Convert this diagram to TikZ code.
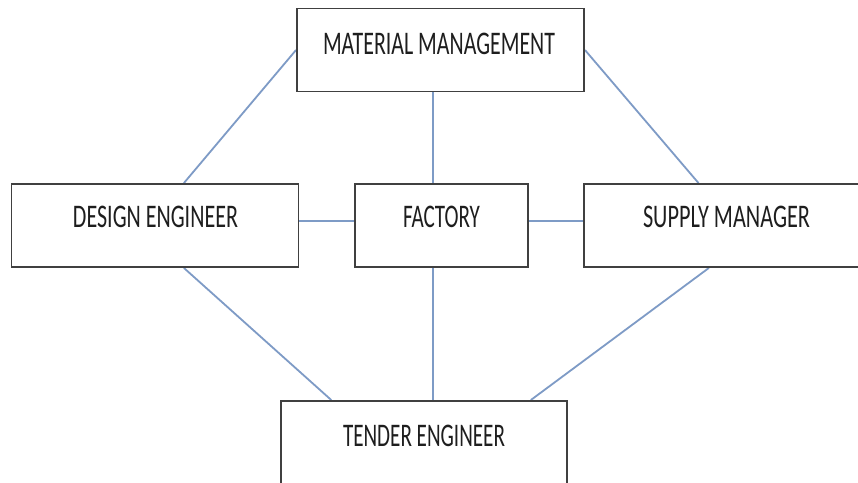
\documentclass[tikz,border=0pt]{standalone}
\usepackage{fontspec}
\setmainfont{Carlito}
\usetikzlibrary{calc}
\definecolor{boxline}{HTML}{404040}
\definecolor{linkline}{HTML}{7E9BC6}
\definecolor{txt}{HTML}{1E1E1E}
\tikzset{
  box/.style={draw=boxline, line width=1.9pt, fill=white, inner sep=0pt, minimum width=287pt, minimum height=83pt},
  boxtext/.style={font=\fontsize{33}{33}\selectfont, text=txt, inner sep=0pt, anchor=center},
  link/.style={draw=linkline, line width=1.8pt}
}
\begin{document}
\begin{tikzpicture}[x=1pt,y=-1pt]
\useasboundingbox (0,0) rectangle (858,482);
\clip (0,0) rectangle (858,482);
\fill[white] (0,0) rectangle (858,482);
% boxes
\node[box] (mm) at (440.5,50) {};
\node[box] (de) at (155,225.5) {};
\node[box, minimum width=173pt] (fac) at (441.5,225.5) {};
\node[box, minimum width=286pt] (sm) at (727,225.5) {};
\node[box, minimum width=286pt, minimum height=100pt] (te) at (424,451) {};
% connectors
\draw[link] (mm.west) -- ($(de.north west)!0.6!(de.north east)$);
\draw[link] (mm.east) -- ($(sm.north west)!0.401!(sm.north east)$);
\coordinate (mms) at ($(mm.south west)!0.475!(mm.south east)$);
\draw[link] (mms) -- (mms |- fac.north);
\coordinate (des) at ($(de.north east)!0.45!(de.south east)$);
\draw[link] (des) -- (des -| fac.west);
\draw[link] (fac.east |- des) -- (des -| sm.west);
\draw[link] ($(de.south west)!0.6!(de.south east)$) -- ($(te.north west)!0.178!(te.north east)$);
\draw[link] (mms |- fac.south) -- (mms |- te.north);
\draw[link] ($(sm.south west)!0.437!(sm.south east)$) -- ($(te.north west)!0.871!(te.north east)$);
% box outlines redrawn on top of line ends
\node[box, fill=none] at (mm) {};
\node[box, fill=none] at (de) {};
\node[box, fill=none, minimum width=173pt] at (fac) {};
\node[box, fill=none, minimum width=286pt] at (sm) {};
\node[box, fill=none, minimum width=286pt, minimum height=100pt] at (te) {};
% texts
\node[boxtext] (mmt) at ($(mm.center)+(-1.5,-6)$) {\resizebox{232pt}{\height}{MATERIAL MANAGEMENT}};
\node[boxtext] (det) at ($(de.center)+(0.5,-8.5)$) {\resizebox{165pt}{\height}{DESIGN ENGINEER}};
\node[boxtext] (fact) at ($(fac.center)+(0,-9)$) {\resizebox{77pt}{\height}{FACTORY}};
\node[boxtext] (smt) at ($(sm.center)+(-0.5,-8.5)$) {\resizebox{167pt}{\height}{SUPPLY MANAGER}};
\node[boxtext] (tet) at (424,436) {\resizebox{162pt}{\height}{TENDER ENGINEER}};
\end{tikzpicture}
\end{document}
